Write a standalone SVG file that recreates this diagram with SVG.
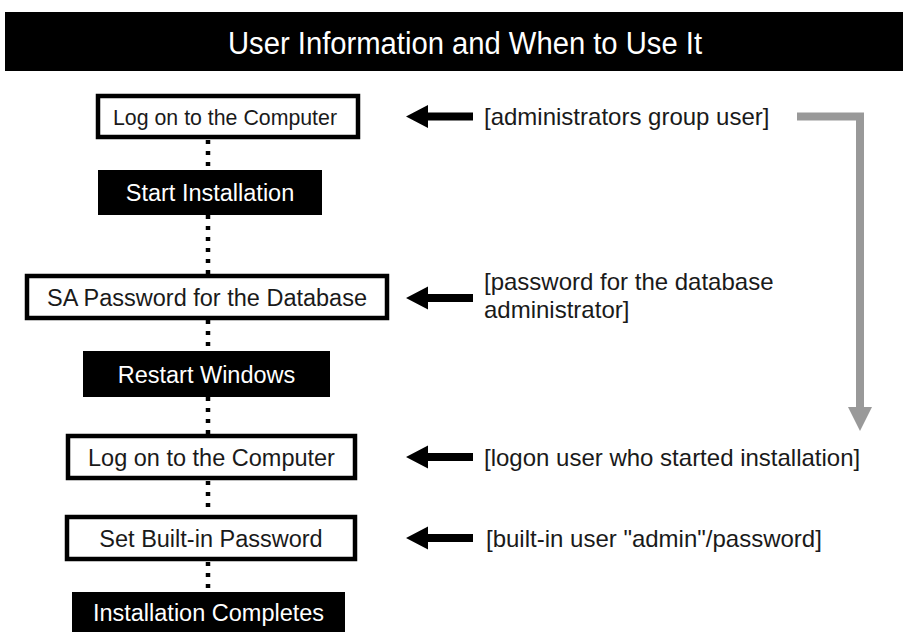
<svg xmlns="http://www.w3.org/2000/svg" width="903" height="632" viewBox="0 0 903 632">
<defs>
<style>
.t{font-family:"Liberation Sans",Arial,Helvetica,sans-serif;}
.title{font-size:31px;fill:#fff;text-anchor:middle;}
.lbl{font-size:23.5px;text-anchor:middle;}
.wb{fill:#fff;stroke:#000;stroke-width:4.5;}
.bb{fill:#000;}
.wt{fill:#1a1a1a;}
.bt{fill:#fff;}
.note{font-size:24px;fill:#1a1a1a;}
.dot{stroke:#000;stroke-width:4.5;stroke-dasharray:4 7;fill:none;}
</style>
<g id="larrow"><polygon points="0,0 22,-11.5 22,-4 67,-4 67,4 22,4 22,11.5" fill="#000"/></g>
</defs>
<rect x="5" y="12" width="898" height="59" fill="#000"/>
<text class="t title" x="465" y="53.5" textLength="474" lengthAdjust="spacingAndGlyphs">User Information and When to Use It</text>

<g id="connectors">
<line class="dot" x1="208" y1="140" x2="208" y2="170"/>
<line class="dot" x1="208" y1="215" x2="208" y2="274"/>
<line class="dot" x1="208" y1="320" x2="208" y2="351"/>
<line class="dot" x1="208" y1="397" x2="208" y2="434"/>
<line class="dot" x1="208" y1="481" x2="208" y2="514"/>
<line class="dot" x1="208" y1="562" x2="208" y2="591"/>
<use href="#larrow" x="406" y="116.5"/>
<use href="#larrow" x="406" y="298"/>
<use href="#larrow" x="406" y="457"/>
<use href="#larrow" x="406" y="538"/>
<polyline points="797,116.5 860,116.5 860,408" fill="none" stroke="#999" stroke-width="8"/>
<polygon points="848,407 872,407 860,431" fill="#999"/>
</g>

<g id="n1"><rect class="wb" x="98" y="96" width="260" height="41"/><text class="t lbl wt" x="225" y="125" style="font-size:22.5px" textLength="224" lengthAdjust="spacingAndGlyphs">Log on to the Computer</text></g>
<g id="n2"><rect class="bb" x="98" y="170" width="224" height="45"/><text class="t lbl bt" x="210" y="200.5">Start Installation</text></g>
<g id="n3"><rect class="wb" x="27" y="276" width="360" height="42"/><text class="t lbl wt" x="207" y="305.5">SA Password for the Database</text></g>
<g id="n4"><rect class="bb" x="83" y="351" width="247" height="46"/><text class="t lbl bt" x="206.5" y="382.5">Restart Windows</text></g>
<g id="n5"><rect class="wb" x="68" y="436" width="287" height="42"/><text class="t lbl wt" x="211.5" y="465.5">Log on to the Computer</text></g>
<g id="n6"><rect class="wb" x="67" y="517" width="288" height="42"/><text class="t lbl wt" x="211" y="546.5">Set Built-in Password</text></g>
<g id="n7"><rect class="bb" x="72" y="592" width="273" height="40"/><text class="t lbl bt" x="208.5" y="621">Installation Completes</text></g>

<g id="notes">
<text class="t note" x="484" y="125">[administrators group user]</text>
<text class="t note" x="484" y="290">[password for the database</text>
<text class="t note" x="484" y="318">administrator]</text>
<text class="t note" x="484" y="465.5">[logon user who started installation]</text>
<text class="t note" x="486" y="546.5">[built-in user "admin"/password]</text>
</g>
</svg>
